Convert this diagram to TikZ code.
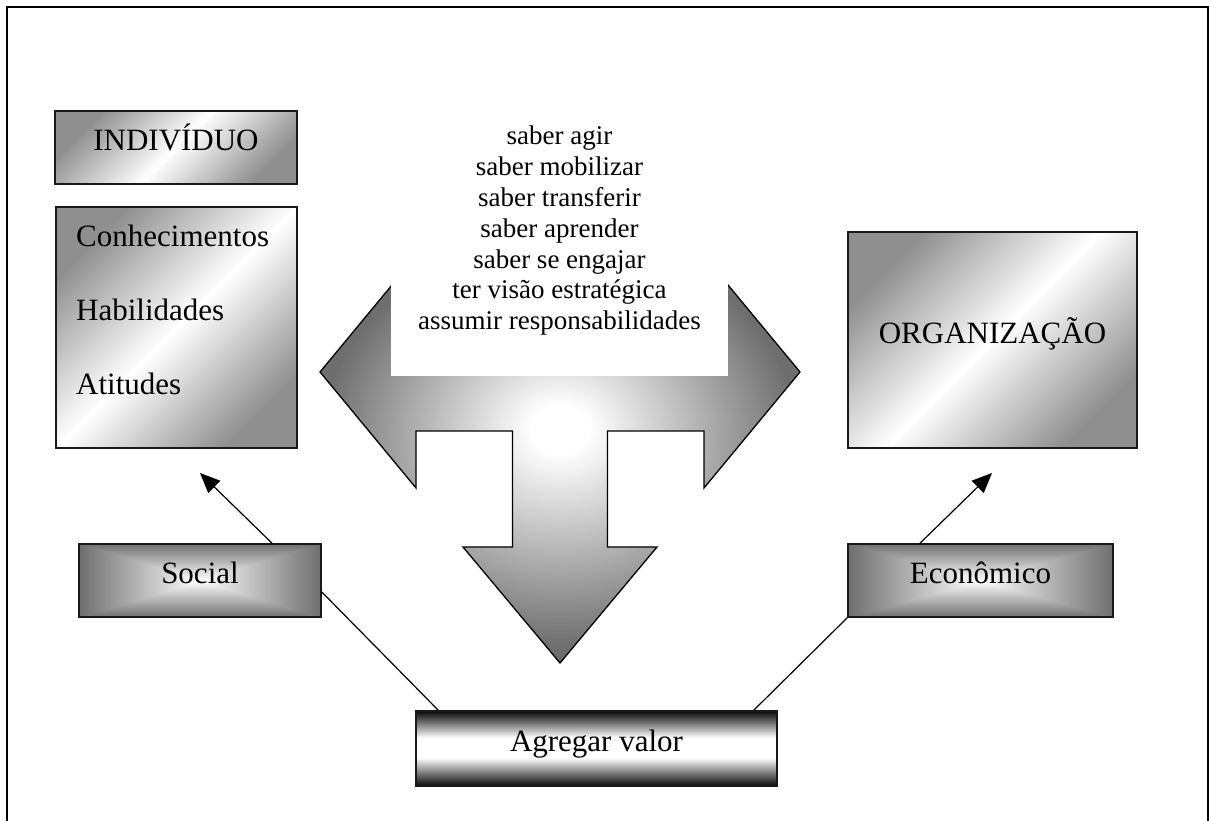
\documentclass[tikz,border=0pt]{standalone}
\usepackage{fontspec}
\setmainfont{Liberation Serif}
\usetikzlibrary{arrows.meta,calc,backgrounds}

\pgfdeclareradialshading{tarrow}{\pgfpoint{0bp}{4bp}}{color(0bp)=(white); color(3bp)=(white); color(25bp)=(black!57); color(50bp)=(black!57)}

\newcommand\rectshade[2]{%
  \shade[left color=#2, right color=#2, middle color=white] (#1.north west) rectangle (#1.south east);
  \shade[top color=#2, bottom color=white] (#1.north west) -- (#1.north east) -- (#1.center) -- cycle;
  \shade[top color=white, bottom color=#2] (#1.south west) -- (#1.south east) -- (#1.center) -- cycle;
}
\newcommand\barshade[1]{%
  \shade[top color=black, bottom color=white] (#1.north west) rectangle ($(#1.north east)!0.36!(#1.south east)$);
  \shade[top color=white, bottom color=black] ($(#1.north west)!0.62!(#1.south west)$) rectangle (#1.south east);
}

\tikzset{
  bigfont/.style={font=\fontsize{31}{37}\selectfont},
  boxline/.style={draw=black!90, line width=1.6pt, inner sep=0pt},
  oneline/.style={bigfont, text height=21pt, text depth=14pt},
  diagbox/.style={boxline, top color=black!44, bottom color=black!44, middle color=white, shading angle=45},
  rectbox/.style={boxline},
  barbox/.style={boxline},
  conn/.style={line width=1.2pt, black},
  tip/.style={-{Triangle[length=20pt,width=17pt]}},
}

\begin{document}
\begin{tikzpicture}[x=1pt,y=1pt]
\useasboundingbox (0,0) rectangle (1209,821);

% page frame (open at the bottom)
\draw[line width=2.2pt] (7,0) -- (7,814) -- (1208,814) -- (1208,0);

% big left-right-down arrow
\shade[shading=tarrow, draw=black, line width=1.3pt, line join=miter]
  (320,449) -- (416,565) -- (416,508) -- (704,508) -- (704,565) -- (800,449)
  -- (704,333) -- (704,390) -- (607.5,390) -- (607.5,274) -- (657,274) -- (560,158)
  -- (463,274) -- (512.5,274) -- (512.5,390) -- (416,390) -- (416,333) -- cycle;

\node (skills) [fill=white, inner sep=0pt, minimum width=337pt, minimum height=290pt,
  align=center, font=\fontsize{27}{30.8}\selectfont, anchor=south] at (559.5,445)
  {saber agir\\saber mobilizar\\saber transferir\\saber aprender\\saber se engajar\\ter visão estratégica\\assumir responsabilidades};

% left column
\node (indiv) [diagbox, oneline, minimum width=242pt, minimum height=73pt] at (176,673.5) {INDIVÍDUO};
\node (know) [diagbox, minimum width=241pt, minimum height=241pt] at (176.5,493.5) {};
\node (k1) [bigfont, anchor=base west, inner sep=0pt] at (76,574) {Conhecimentos};
\node (k2) [bigfont, anchor=base west, inner sep=0pt] at (76,500) {Habilidades};
\node (k3) [bigfont, anchor=base west, inner sep=0pt] at (76,426) {Atitudes};

% right
\node (org) [diagbox, oneline, minimum width=289pt, minimum height=216pt] at (992.5,481) {ORGANIZAÇÃO};

% lower boxes
\node (social) [rectbox, oneline, minimum width=242pt, minimum height=73pt] at (200,240.5) {Social};
\node (eco) [rectbox, oneline, minimum width=265pt, minimum height=73pt] at (980.5,240.5) {Econômico};
\node (agreg) [barbox, oneline, minimum width=361pt, minimum height=75pt] at (596.5,72.5) {Agregar valor};

\begin{scope}[on background layer]
  \rectshade{social}{black!57}
  \rectshade{eco}{black!57}
  \barshade{agreg}
\end{scope}

% connectors
\coordinate (socialtip) at (200,348);
\coordinate (ecotip) at (992,348);
\draw[conn, tip] ($(social.north)+(72,0)$) -- (socialtip);
\draw[conn, tip] ($(eco.north)+(-60.5,0)$) -- (ecotip);
\draw[conn] ($(agreg.north west)+(23,0)$) -- ($(social.east)+(0,-11.5)$);
\draw[conn] ($(agreg.north east)+(-24,0)$) -- (eco.south west);
\end{tikzpicture}
\end{document}
